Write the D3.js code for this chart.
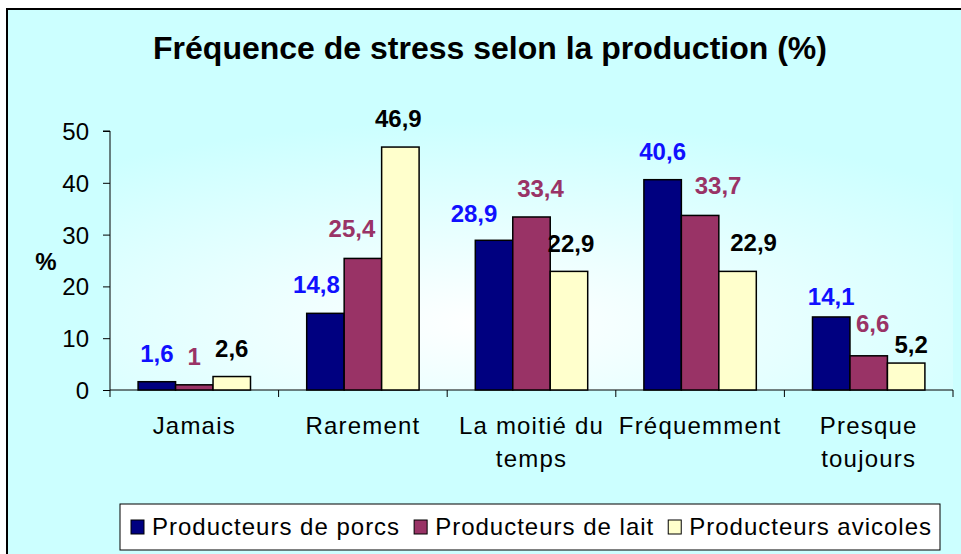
<!DOCTYPE html>
<html>
<head>
<meta charset="utf-8">
<script src="https://cdnjs.cloudflare.com/ajax/libs/d3/7.8.5/d3.min.js"></script>
<style>
  body { margin: 0; background: #fff; }
  svg text { font-family: "Liberation Sans", Arial, sans-serif; }
</style>
</head>
<body>
<svg id="chart" width="961" height="554"></svg>
<script>
// data
var categories = ["Jamais", "Rarement", "La moitié du temps", "Fréquemment", "Presque toujours"]
var catLines = [["Jamais"], ["Rarement"], ["La moitié du", "temps"], ["Fréquemment"], ["Presque", "toujours"]]
var seriesNames = ["Producteurs de porcs", "Producteurs de lait", "Producteurs avicoles"]
var porcs = [1.6, 14.8, 28.9, 40.6, 14.1]
var lait = [1, 25.4, 33.4, 33.7, 6.6]
var avicoles = [2.6, 46.9, 22.9, 22.9, 5.2]
var yTicks = [0, 10, 20, 30, 40, 50]

var fills = ["#000080", "#993366", "#ffffcc"]
var labelColors = ["#1010ff", "#993366", "#000000"]
var series = [porcs, lait, avicoles]

// hand moved labels in the original (pixels, per series / category)
var labelDx = [[0, -9, -20, 0, 0], [0, -11, 9, 18, 4], [0, -2, 2, 16, 5]]
var labelDy = [[0, 0, 2, 0, 8], [0, -1, 0, -1, -4], [0, 0, 1, 0, 10]]

var svg = d3.select("#chart")

var defs = svg.append("defs")
var grad = defs.append("radialGradient").attr("id", "plotGrad")
  .attr("cx", "0.45").attr("cy", "0.75").attr("r", "0.75")
grad.append("stop").attr("offset", "0%").attr("stop-color", "#ffffff")
grad.append("stop").attr("offset", "100%").attr("stop-color", "#ccffff")

svg.append("rect").attr("x", 7).attr("y", 9).attr("width", 960).attr("height", 560)
  .attr("fill", "#ccffff")

var margin = {left: 110, right: 953, top: 131, bottom: 390}

svg.append("rect")
  .attr("x", margin.left).attr("y", margin.top - 10)
  .attr("width", margin.right - margin.left).attr("height", margin.bottom - margin.top + 10)
  .attr("fill", "url(#plotGrad)")

// frame (only top and left are inside the picture)
svg.append("path").attr("d", "M7,554 L7,9 L961,9")
  .attr("fill", "none").attr("stroke", "#000").attr("stroke-width", 2)

// title
svg.append("text")
  .attr("x", 490).attr("y", 59)
  .attr("text-anchor", "middle")
  .style("font-size", "32px").style("font-weight", "bold")
  .text("Fréquence de stress selon la production (%)")

var x0 = d3.scaleBand().domain(categories).range([margin.left, margin.right])
var x1 = d3.scaleBand().domain([0, 1, 2]).range([0, x0.bandwidth()]).paddingOuter(0.75).paddingInner(0)
var y = d3.scaleLinear().domain([0, 50]).range([margin.bottom, margin.top])

// y axis
var yAxis = svg.append("g")
  .attr("transform", "translate(" + margin.left + ",0)")
  .call(d3.axisLeft(y).tickValues(yTicks).tickSize(7).tickPadding(14))
yAxis.select(".domain").attr("d", "M-7," + y(50) + "H0V" + (margin.bottom + 7))
yAxis.selectAll("text").style("font-size", "24px").attr("fill", "#000").attr("dy", "0.35em")
yAxis.selectAll("line").attr("stroke", "#000")

svg.append("text")
  .attr("x", 46).attr("y", 270)
  .attr("text-anchor", "middle")
  .style("font-size", "24px").style("font-weight", "bold")
  .text("%")

// x axis line + ticks between categories
svg.append("line")
  .attr("x1", margin.left).attr("x2", margin.right)
  .attr("y1", margin.bottom).attr("y2", margin.bottom)
  .attr("stroke", "#000")
svg.selectAll(".xtick")
  .data(categories)
  .enter().append("line")
  .attr("class", "xtick")
  .attr("x1", function(d){ return x0(d) + x0.bandwidth() })
  .attr("x2", function(d){ return x0(d) + x0.bandwidth() })
  .attr("y1", margin.bottom).attr("y2", margin.bottom + 7)
  .attr("stroke", "#000")

// category labels
var catG = svg.selectAll(".cat")
  .data(categories)
  .enter().append("text")
  .attr("class", "cat")
  .attr("text-anchor", "middle")
  .style("font-size", "24px")
  .style("letter-spacing", "1.2px")
catG.each(function(d, i){
  var t = d3.select(this)
  catLines[i].forEach(function(line, j){
    t.append("tspan")
      .attr("x", x0(d) + x0.bandwidth() / 2)
      .attr("y", 434 + j * 33)
      .text(line)
  })
})

// bars + value labels
series.forEach(function(vals, s){
  svg.selectAll(".bar" + s)
    .data(vals)
    .enter().append("rect")
    .attr("x", function(d, i){ return x0(categories[i]) + x1(s) })
    .attr("y", function(d){ return y(d) })
    .attr("width", x1.bandwidth())
    .attr("height", function(d){ return y(0) - y(d) })
    .attr("fill", fills[s])
    .attr("stroke", "#000")
    .attr("stroke-width", 1.5)

  svg.selectAll(".lab" + s)
    .data(vals)
    .enter().append("text")
    .attr("x", function(d, i){ return x0(categories[i]) + x1(s) + x1.bandwidth() / 2 + labelDx[s][i] })
    .attr("y", function(d, i){ return y(d) - 20 + labelDy[s][i] })
    .attr("text-anchor", "middle")
    .attr("fill", labelColors[s])
    .style("font-size", "24px").style("font-weight", "bold")
    .text(function(d){ return String(d).replace(".", ",") })
})

// legend
var legend = svg.append("g")
legend.append("rect")
  .attr("x", 120).attr("y", 504).attr("width", 820).attr("height", 46)
  .attr("fill", "#fff").attr("stroke", "#000")
var lx = 131
seriesNames.forEach(function(name, s){
  legend.append("rect")
    .attr("x", lx).attr("y", 520).attr("width", 13).attr("height", 14)
    .attr("fill", fills[s]).attr("stroke", "#000")
  var t = legend.append("text")
    .attr("x", lx + 21).attr("y", 535)
    .style("font-size", "24px")
    .style("letter-spacing", "1px")
    .text(name)
  lx = lx + 21 + t.node().getComputedTextLength() + 14
})
</script>
</body>
</html>
